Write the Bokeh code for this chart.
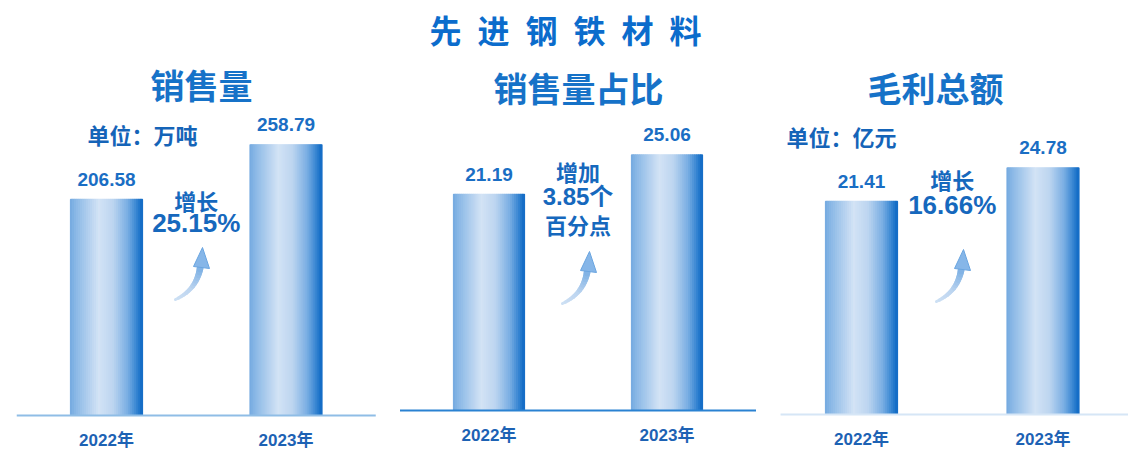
import numpy as np
from bokeh.plotting import figure
from bokeh.layouts import row
from bokeh.models import Label, ColumnDataSource, Range1d
from bokeh.core.properties import value
from bokeh.embed import file_html
from bokeh.resources import INLINE

# ---------------- data ----------------
main_title = "先\u2002进\u2002钢\u2002铁\u2002材\u2002料"
years = ["2022年", "2023年"]
panel_titles = ["销售量", "销售量占比", "毛利总额"]
sales_volume = [206.58, 258.79]      # 万吨
sales_share = [21.19, 25.06]         # %
gross_profit = [21.41, 24.78]        # 亿元
units = ["单位：万吨", None, "单位：亿元"]
growth_notes = [["增长", "25.15%"], ["增加", "3.85个", "百分点"], ["增长", "16.66%"]]
series = [sales_volume, sales_share, gross_profit]

# ---------------- layout / style ----------------
TOP, BOTTOM = 0, 449
H = BOTTOM - TOP
PANELS = [
    dict(left=0, width=384, c0=106.0, step=179.5, bw=72, base=415, scale=1.046,
         line=(-0.5, 1.5), line_color="#8fbde6", title=(201, 84), unit=(142, 133),
         note_y=[199, 222], note_size=[22, 26], arrow_tip=(202, 247)),
    dict(left=384, width=378, c0=488.5, step=178.0, bw=71, base=410, scale=10.2,
         line=(-0.5, 1.5), line_color="#2a82d2", title=(578, 87), unit=None,
         note_y=[170, 196, 223], note_size=[22, 24, 22], arrow_tip=(589, 251)),
    dict(left=762, width=366, c0=861.0, step=181.5, bw=72, base=414, scale=9.95,
         line=(-0.446, 1.6), line_color="#d6e6f6", title=(935, 87), unit=(841, 135),
         note_y=[178, 204], note_size=[22, 26], arrow_tip=(963, 249)),
]
BLUE = "#1a6ec4"
CJK = "Noto Sans CJK SC"
LAT = "'Liberation Sans', 'Noto Sans CJK SC'"

STOPS = [(0.0, "#74a9e0"), (0.08, "#8ab8e6"), (0.4, "#d3e3f5"), (0.6, "#bcd5f0"),
         (0.8, "#7aaee3"), (0.92, "#3a87d3"), (1.0, "#0e69c4")]


def hex2rgb(h):
    h = h.lstrip("#")
    return np.array([int(h[i:i + 2], 16) for i in (0, 2, 4)], dtype=float)


def grad(t):
    for (t0, c0), (t1, c1) in zip(STOPS[:-1], STOPS[1:]):
        if t0 <= t <= t1:
            f = (t - t0) / (t1 - t0)
            c = hex2rgb(c0) * (1 - f) + hex2rgb(c1) * f
            return "#%02x%02x%02x" % tuple(int(round(v)) for v in c)
    return STOPS[-1][1]


def make_panel(k):
    g = PANELS[k]
    vals = series[k]
    c0, step, base, sc, left = g["c0"], g["step"], g["base"], g["scale"], g["left"]
    xr = Range1d((left - c0) / step, (left + g["width"] - c0) / step)
    yr = Range1d((base - BOTTOM) / sc, (base - TOP) / sc)
    p = figure(width=g["width"], height=H, x_range=xr, y_range=yr,
               output_backend="svg", toolbar_location=None, min_border=0,
               x_axis_location=None, y_axis_location=None)
    p.grid.visible = False
    p.outline_line_color = None
    p.background_fill_color = "white"

    def dx(px):
        return (px - c0) / step

    def dy(py):
        return (base - py) / sc

    # gradient bars built from strips
    N = 36
    bw = g["bw"] / step
    xs, tops, cols = [], [], []
    for i, v in enumerate(vals):
        for j in range(N):
            t = (j + 0.5) / N
            xs.append(i + (t - 0.5) * bw)
            tops.append(v)
            cols.append(grad(t))
    src = ColumnDataSource(dict(x=xs, top=tops, color=cols))
    p.vbar(x="x", top="top", bottom=0, width=bw / N, source=src,
           fill_color="color", line_color="color", line_width=1.2)

    # baseline
    p.segment(x0=[g["line"][0]], x1=[g["line"][1]], y0=[0], y1=[0],
              line_color=g["line_color"], line_width=2)

    # value labels
    p.text(x=list(range(len(vals))), y=vals, text=[f"{v:.2f}" for v in vals],
           text_align="center", text_baseline="middle", y_offset=-20,
           text_font=value(LAT), text_font_style="bold", text_font_size="19px",
           text_color=BLUE)

    # year labels
    p.text(x=list(range(len(years))), y=[0] * len(years), text=years,
           text_align="center", text_baseline="middle", y_offset=24.5,
           text_font=value(LAT), text_font_size="17px", text_font_style="bold",
           text_color="#1d62b4")

    # panel title
    tx, ty = g["title"]
    p.add_layout(Label(x=tx - left, y=BOTTOM - ty, x_units="screen", y_units="screen",
                       text=panel_titles[k], text_align="center", text_baseline="middle",
                       text_font=CJK, text_font_style="bold", text_font_size="34px",
                       text_color="#1672c8"))
    # unit
    if units[k]:
        ux, uy = g["unit"]
        p.add_layout(Label(x=ux - left, y=BOTTOM - uy, x_units="screen", y_units="screen",
                           text=units[k], text_align="center", text_baseline="middle",
                           text_font=CJK, text_font_style="bold", text_font_size="22px",
                           text_color="#1564b8"))
    # growth notes
    for line, ny, ns in zip(growth_notes[k], g["note_y"], g["note_size"]):
        p.add_layout(Label(x=0.5, y=BOTTOM - ny, y_units="screen", text=line,
                           text_align="center", text_baseline="middle",
                           text_font=LAT if any(ch.isdigit() for ch in line) else CJK,
                           text_font_style="bold", text_font_size=f"{ns}px",
                           text_color="#1668bd"))

    # curved arrow
    tipx, tipy = g["arrow_tip"]
    T = np.array([tipx - 27, tipy + 52])
    C = np.array([tipx - 5, tipy + 42])
    E = np.array([tipx - 2, tipy + 18])
    M = 14
    for s in range(M):
        a, b = s / M, (s + 1) / M
        P0 = (1 - a) ** 2 * T + 2 * (1 - a) * a * C + a ** 2 * E
        P1 = (1 - b) ** 2 * T + 2 * (1 - b) * b * C + b ** 2 * E
        col = grad(0.45 + 0.35 * a)
        p.line(x=[dx(P0[0]), dx(P1[0])], y=[dy(P0[1]), dy(P1[1])],
               line_color=col, line_width=3 + 4 * a, line_cap="round")
    hx = [dx(tipx), dx(tipx - 9), dx(tipx + 7)]
    hy = [dy(tipy), dy(tipy + 19), dy(tipy + 21)]
    p.patch(x=hx, y=hy, fill_color="#86b6e8", line_color="#6aa5e0", line_width=1)

    if k == 1:
        p.add_layout(Label(x=565 - left, y=BOTTOM - 28, x_units="screen", y_units="screen",
                           text=main_title, text_align="center", text_baseline="middle",
                           text_font=CJK, text_font_style="bold", text_font_size="32px",
                           text_color="#0b6ccc"))
    return p


figs = [make_panel(k) for k in range(3)]
layout = row(*figs, spacing=0)
open("out.html", "w").write(file_html(layout, INLINE))
